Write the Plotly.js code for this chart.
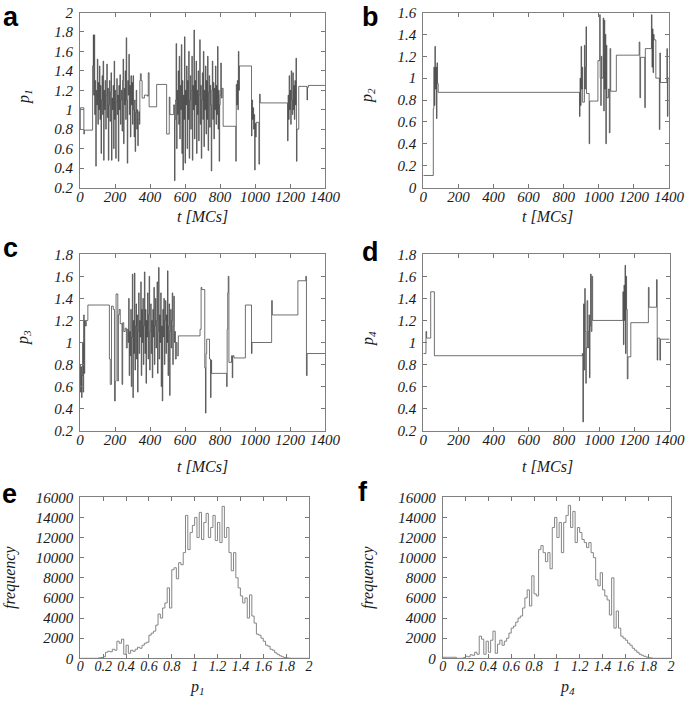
<!DOCTYPE html>
<html>
<head>
<meta charset="utf-8">
<script src="https://cdn.plot.ly/plotly-3.0.1.min.js"></script>
<style>html,body{margin:0;padding:0;background:#fff;}#chart{width:685px;height:702px;}</style>
</head>
<body>
<div id="chart"></div>
<script>
// ---------------- DATA ----------------
// Panel a: p1 vs t [MCs]  (step changes: time, value)
const aT = [0,2,22,25,72,76,78,81,84,87,90,93,96,99,102,105,108,111,114,117,120,123,126,129,132,135,138,141,144,147,150,153,156,159,162,165,168,171,174,177,180,183,186,189,192,195,198,201,204,207,210,213,216,219,222,225,228,231,234,237,240,243,246,249,252,255,258,261,264,267,270,273,276,279,282,285,288,291,294,297,300,303,306,309,312,315,318,321,324,327,330,333,336,339,342,345,350,355,368,385,390,395,438,495,510,514,535,540,543,546,549,552,555,558,561,564,567,570,573,576,579,582,585,588,591,594,597,600,603,606,609,612,615,618,621,624,627,630,633,636,639,642,645,648,651,654,657,660,663,666,669,672,675,678,681,684,687,690,693,696,699,702,705,708,711,714,717,720,723,726,729,732,735,738,741,744,747,750,753,756,759,762,765,768,771,774,777,780,783,786,789,792,795,798,801,804,808,812,818,890,893,896,899,902,905,908,911,980,983,986,989,992,995,998,1001,1004,1007,1022,1026,1030,1186,1189,1192,1195,1198,1201,1204,1207,1210,1213,1216,1219,1222,1225,1228,1231,1234,1237,1240,1250,1297,1300,1305,1400];
const aV = [0.80,1.02,0.75,0.79,1.45,1.77,1.15,1.77,0.95,1.3,0.42,1.2,1.05,1.52,0.85,1.28,1.0,1.45,0.9,1.25,0.55,1.1,1.35,0.95,1.5,0.48,1.2,1.0,1.3,0.8,1.15,1.47,0.92,1.22,0.48,1.05,1.3,0.88,1.18,1.38,0.48,1.12,1.0,1.25,0.6,1.5,0.9,1.2,0.5,1.08,1.32,0.95,1.15,0.47,1.25,1.0,1.36,0.85,1.1,1.2,0.78,1.3,1.52,0.65,1.22,1.05,1.4,0.9,1.74,1.1,0.45,1.3,1.15,1.57,0.95,1.25,0.72,1.35,1.05,1.28,0.85,1.35,1.0,0.72,1.1,0.57,0.97,1.2,0.8,1.0,0.63,0.9,0.98,0.85,1.3,1.37,1.3,1.12,1.15,1.14,1.38,1.03,1.26,0.75,1.13,0.95,1.05,0.27,0.9,1.1,1.68,0.6,1.2,0.95,1.4,0.85,1.55,0.7,1.25,1.0,1.67,0.55,1.3,0.38,1.15,0.9,1.75,0.45,1.2,1.05,1.45,0.6,1.3,0.9,1.6,0.5,1.1,1.35,0.8,1.2,1.55,0.48,1.25,1.0,1.82,0.7,1.3,1.05,1.5,0.55,1.2,0.95,1.4,0.68,1.15,1.72,0.85,1.25,0.5,1.1,1.38,0.9,1.6,0.62,1.2,1.0,1.45,0.75,1.3,0.9,1.55,0.58,1.18,1.35,0.82,1.25,1.05,0.37,1.2,1.5,0.9,1.28,0.7,1.22,1.0,1.45,0.85,1.25,0.95,1.65,0.8,1.2,0.47,1.05,1.15,1.48,1.12,1.22,0.83,0.47,1.26,1.05,1.3,1.0,1.6,1.2,1.45,0.73,1.1,0.9,1.02,0.8,0.95,0.38,0.86,0.72,0.87,0.44,1.16,1.07,0.68,1.15,0.9,1.35,1.0,1.2,0.85,1.4,1.1,0.95,1.38,1.0,1.25,0.9,1.3,1.05,1.53,0.47,0.8,1.24,1.1,1.23,1.25,1.25];

// Panel b: p2 vs t [MCs]
const bT = [0,57,60,63,66,69,72,75,78,81,85,890,893,896,899,902,905,908,918,921,924,927,930,945,948,995,1005,1008,1011,1014,1017,1025,1028,1031,1034,1037,1040,1043,1046,1055,1060,1064,1068,1100,1230,1234,1238,1262,1265,1300,1303,1306,1309,1312,1315,1325,1345,1348,1351,1388,1391,1394,1400];
const bV = [0.11,0.72,1.1,0.75,1.29,0.9,1.1,0.63,1.14,0.95,0.87,0.65,1.0,0.75,1.29,0.9,1.1,0.78,1.3,0.9,1.1,1.47,0.86,0.4,0.79,1.16,1.58,1.0,0.75,1.2,1.0,1.55,0.7,1.53,0.9,1.4,0.4,1.3,0.82,0.9,0.5,1.27,0.88,1.21,1.33,0.82,1.19,0.73,1.27,1.58,1.1,1.45,1.05,1.4,1.35,1.0,0.53,1.23,0.96,1.27,0.65,1.0,1.0];

// Panel c: p3 vs t [MCs]
const cT = [0,3,6,9,12,15,18,21,24,27,31,36,45,168,173,180,190,197,202,206,216,219,224,230,240,244,250,258,265,270,275,278,281,284,287,290,293,296,299,302,305,308,311,314,317,320,323,326,329,332,335,338,341,344,347,350,353,356,359,362,365,368,371,374,377,380,383,386,389,392,395,398,401,404,407,410,413,416,419,422,425,428,431,434,437,440,443,446,449,452,455,458,461,464,467,470,473,476,479,482,485,488,491,494,497,500,503,506,509,512,515,518,521,524,527,530,533,536,539,542,545,550,555,562,686,692,696,713,717,720,724,740,746,749,752,838,841,844,847,851,866,870,873,880,945,980,983,1095,1099,1245,1290,1294,1298,1400];
const cV = [0.8,0.55,0.78,0.5,0.7,1.0,0.55,1.25,0.72,1.2,1.15,1.2,1.34,0.85,0.62,1.33,1.3,0.47,0.65,1.44,0.65,1.25,1.3,1.17,0.62,1.18,1.1,1.13,0.95,1.12,1.0,1.4,0.7,1.1,0.88,1.3,0.6,1.05,1.62,0.5,1.2,0.9,1.63,0.75,1.15,1.35,0.85,1.25,0.55,1.1,1.45,0.9,1.2,1.05,1.55,0.7,1.3,1.0,1.4,0.8,1.15,1.64,0.9,1.3,0.63,1.2,1.05,1.45,0.85,1.25,1.6,0.75,1.1,1.35,0.9,1.2,0.68,1.3,1.05,1.5,0.8,1.15,1.4,0.95,1.2,1.55,0.72,1.1,1.68,0.85,1.25,1.0,1.45,0.6,1.15,0.47,1.3,1.05,1.4,0.8,1.2,1.38,0.9,1.25,1.0,1.65,0.7,1.15,1.35,0.52,1.1,1.3,0.95,1.2,1.45,0.8,1.15,1.42,1.0,1.1,0.85,1.0,0.88,1.06,1.12,1.5,1.48,0.77,0.36,0.9,1.03,0.85,0.5,0.84,0.72,0.6,1.12,1.45,1.6,0.82,0.88,0.68,0.88,0.86,1.34,0.9,1.0,1.38,1.25,1.56,1.6,0.7,0.9,0.9];

// Panel d: p4 vs t [MCs]
const dT = [0,15,19,42,63,904,907,911,915,918,921,924,927,931,935,939,942,945,948,951,955,959,963,1135,1138,1141,1144,1147,1150,1153,1156,1160,1164,1180,1280,1284,1326,1330,1333,1345,1349,1400];
const dV = [0.9,1.1,1.04,1.46,0.88,0.9,0.28,1.35,0.75,1.49,1.1,0.63,0.95,1.38,0.95,1.1,1.25,0.68,1.15,1.62,1.1,1.6,1.2,1.46,0.98,1.52,1.2,1.7,0.9,1.6,1.3,0.67,0.87,1.18,1.5,1.32,1.57,0.84,1.04,0.84,1.03,1.03];

// Panel e: histogram of p1 (bin width 0.02, bins from 0 to 2)
const binWidth = 0.02;
const eCounts = [0,0,0,0,0,0,0,0,50,80,150,600,700,650,900,800,1700,1500,1900,400,1300,500,800,700,900,1100,1000,1300,1500,1600,2300,2500,2700,3300,4400,4000,5000,5500,7000,5000,8800,9000,7900,9500,9300,10500,14200,10800,12500,13200,14000,12000,14500,11800,13500,14400,12000,13000,14200,11700,13500,11500,15100,12000,13000,10500,8700,10500,8000,7000,6200,5500,6000,4000,6300,4200,3500,2400,2300,2000,1700,1300,1200,900,800,550,400,250,150,80,50,20,0,0,0,0,0,0,0,0];
// Panel f: histogram of p4
const fCounts = [100,100,100,100,100,100,0,0,0,60,200,150,350,300,600,400,2200,1900,400,1700,600,1800,2700,500,1400,1800,1300,1700,2000,2500,3000,3200,3600,4000,4200,5000,6000,6800,5200,8200,6400,6200,10800,11200,10500,9600,10500,8900,13000,14000,12000,13500,10500,13500,14200,15200,13000,14600,11500,13000,12500,11800,11500,11000,11500,10500,10000,7800,7200,8500,6800,6200,5800,4300,8000,3000,4700,3000,2200,2000,1800,1500,1300,1000,800,600,400,300,200,120,60,30,0,0,0,0,0,0,0,0];

// Tick values
const tTicks = [0,200,400,600,800,1000,1200,1400];
const pTicksHist = [0,0.2,0.4,0.6,0.8,1,1.2,1.4,1.6,1.8,2];
const freqTicks = [0,2000,4000,6000,8000,10000,12000,14000,16000];
const yA = [0.2,0.4,0.6,0.8,1,1.2,1.4,1.6,1.8,2];
const yB = [0,0.2,0.4,0.6,0.8,1,1.2,1.4,1.6];
const yC = [0.2,0.4,0.6,0.8,1,1.2,1.4,1.6,1.8];

// ---------------- BUILD ----------------
function histXY(counts){
  const x = [], y = [];
  for (let i = 0; i < counts.length; i++){ x.push(+(i*binWidth).toFixed(4)); y.push(counts[i]); }
  x.push(2); y.push(counts[counts.length-1]);
  return {x, y};
}
const W = 685, H = 702;
const px = v => v / W, py = v => 1 - v / H;

const tsLine = {shape:'hv', color:'#333333', width:0.7};
const histLine = {shape:'hv', color:'#858585', width:1};
const eh = histXY(eCounts), fh = histXY(fCounts);

const traces = [
  {x:aT, y:aV, xaxis:'x', yaxis:'y', mode:'lines', line:tsLine, hoverinfo:'skip'},
  {x:bT, y:bV, xaxis:'x2', yaxis:'y2', mode:'lines', line:tsLine, hoverinfo:'skip'},
  {x:cT, y:cV, xaxis:'x3', yaxis:'y3', mode:'lines', line:tsLine, hoverinfo:'skip'},
  {x:dT, y:dV, xaxis:'x4', yaxis:'y4', mode:'lines', line:tsLine, hoverinfo:'skip'},
  {x:eh.x, y:eh.y, xaxis:'x5', yaxis:'y5', mode:'lines', line:histLine, hoverinfo:'skip'},
  {x:fh.x, y:fh.y, xaxis:'x6', yaxis:'y6', mode:'lines', line:histLine, hoverinfo:'skip'}
];

const SERIF = 'Liberation Serif';
const tickFont = {family:SERIF, size:15, color:'#1a1a1a', style:'italic'};
const tickFontSmall = {family:SERIF, size:14, color:'#1a1a1a', style:'italic'};
function ax(domain, range, tickvals, anchor, extra){
  return Object.assign({
    domain, range, anchor, tickmode:'array', tickvals,
    ticks:'inside', ticklen:4, tickwidth:1, tickcolor:'#777',
    showline:true, linecolor:'#808080', linewidth:1, mirror:'ticks',
    showgrid:false, zeroline:false, tickfont:tickFont, ticklabelstandoff:3,
    fixedrange:true
  }, extra||{});
}
const xExtra = {ticklabelstandoff:-5};

const dAx = [px(80), px(325)], dBx = [px(423.3), px(669)];
const dCx = [px(80), px(325)], dDx = [px(423.3), px(669.5)];
const dEx = [px(80.3), px(309)], dFx = [px(442.7), px(671)];
const dTopY = [py(187.5), py(12.5)], dMidY = [py(430.7), py(254.3)], dBotY = [py(658.3), py(497.3)];

const layout = {
  width:W, height:H, margin:{l:0,r:0,t:0,b:0}, paper_bgcolor:'#fff', plot_bgcolor:'#fff', showlegend:false,
  font:{family:SERIF},
  xaxis: ax(dAx, [0,1400], tTicks, 'y', xExtra),
  yaxis: ax(dTopY, [0.2,2], yA, 'x'),
  xaxis2: ax(dBx, [0,1400], tTicks, 'y2', xExtra),
  yaxis2: ax(dTopY, [0,1.6], yB, 'x2'),
  xaxis3: ax(dCx, [0,1400], tTicks, 'y3', xExtra),
  yaxis3: ax(dMidY, [0.2,1.8], yC, 'x3'),
  xaxis4: ax(dDx, [0,1400], tTicks, 'y4', Object.assign({ticklabeloverflow:'allow'}, xExtra)),
  yaxis4: ax(dMidY, [0.2,1.8], yC, 'x4'),
  xaxis5: ax(dEx, [0,2], pTicksHist, 'y5', {tickfont:tickFontSmall, ticklabelstandoff:-5}),
  yaxis5: ax(dBotY, [0,16000], freqTicks, 'x5', {tickformat:'d'}),
  xaxis6: ax(dFx, [0,2], pTicksHist, 'y6', {tickfont:tickFontSmall, ticklabelstandoff:-5}),
  yaxis6: ax(dBotY, [0,16000], freqTicks, 'x6', {tickformat:'d'}),
  annotations: []
};

const titleFont = {family:SERIF, size:16, color:'#1a1a1a', style:'italic'};
const labelFont = {family:'Liberation Sans', size:27, color:'#000', weight:'bold'};
function note(text, x, y, opts){
  layout.annotations.push(Object.assign({text, x:px(x), y:py(y), xref:'paper', yref:'paper', showarrow:false,
    xanchor:'center', yanchor:'middle', font:titleFont}, opts||{}));
}
// axis titles
note('t [MCs]', 202, 217);
note('t [MCs]', 547, 216);
note('t [MCs]', 202, 466);
note('t [MCs]', 547, 466);
note('p<sub>1</sub>', 25, 96, {textangle:-90});
note('p<sub>2</sub>', 368, 96, {textangle:-90});
note('p<sub>3</sub>', 24, 338, {textangle:-90});
note('p<sub>4</sub>', 368, 339, {textangle:-90});
note('frequency', 10, 578, {textangle:-90});
note('frequency', 368, 578, {textangle:-90});
note('p<sub>1</sub>', 197, 687);
note('p<sub>4</sub>', 567, 687);
// panel letters
note('a', 1, 0, {xanchor:'left', yanchor:'top', font:labelFont});
note('b', 360, 0, {xanchor:'left', yanchor:'top', font:labelFont});
note('c', 1, 231, {xanchor:'left', yanchor:'top', font:labelFont});
note('d', 360, 235, {xanchor:'left', yanchor:'top', font:labelFont});
note('e', 0, 477, {xanchor:'left', yanchor:'top', font:labelFont});
note('f', 356, 475, {xanchor:'left', yanchor:'top', font:labelFont});

Plotly.newPlot('chart', traces, layout, {staticPlot:true, displayModeBar:false});
</script>
</body>
</html>
